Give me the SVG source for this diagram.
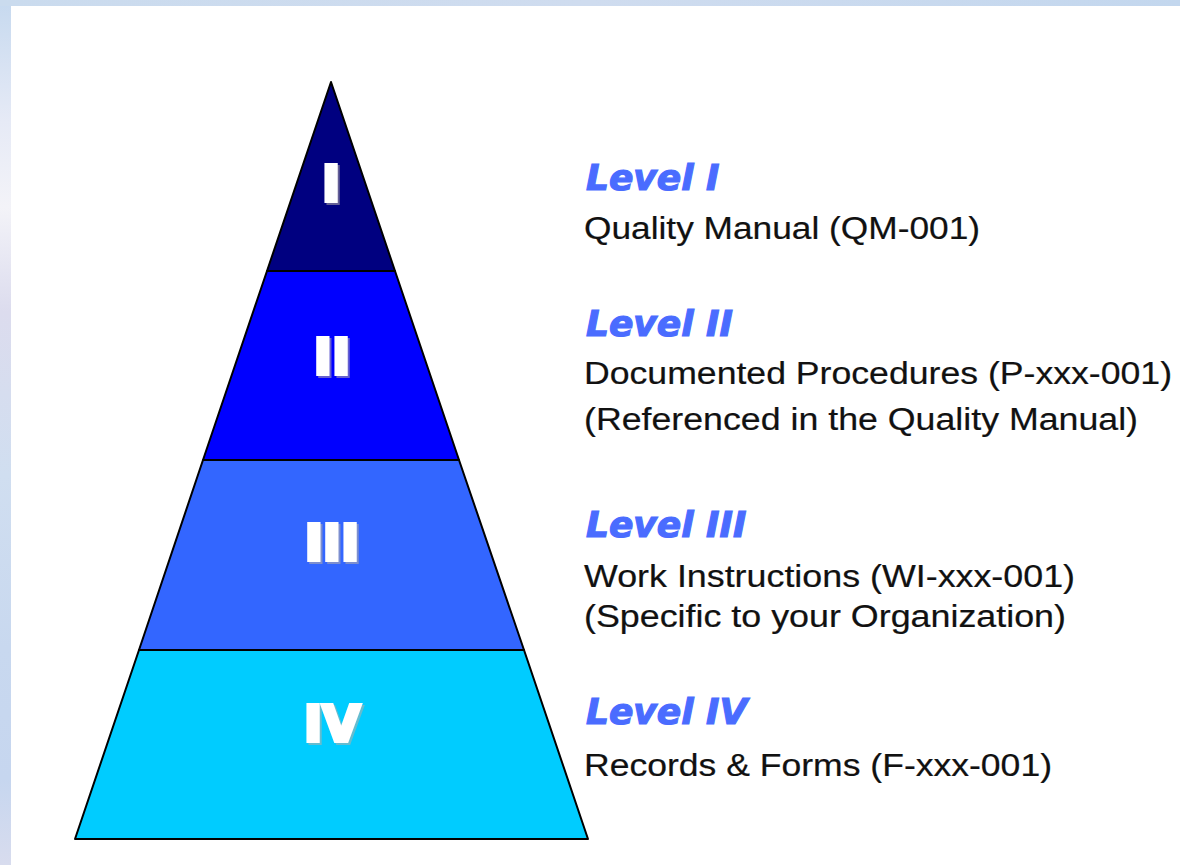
<svg xmlns="http://www.w3.org/2000/svg" width="1180" height="865" viewBox="0 0 1180 865">
<defs>
<linearGradient id="leftBand" x1="0" y1="0" x2="0" y2="1">
<stop offset="0" stop-color="#c6d9ef"/>
<stop offset="0.14" stop-color="#e6eaf6"/>
<stop offset="0.24" stop-color="#f3f3f8"/>
<stop offset="0.36" stop-color="#dcdcee"/>
<stop offset="0.55" stop-color="#d0def0"/>
<stop offset="0.75" stop-color="#c8d8ef"/>
<stop offset="0.9" stop-color="#c6d6ef"/>
<stop offset="1" stop-color="#d8dcee"/>
</linearGradient>
<linearGradient id="topBand" x1="0" y1="0" x2="1" y2="0">
<stop offset="0" stop-color="#cadbee"/>
<stop offset="0.5" stop-color="#cfdcef"/>
<stop offset="1" stop-color="#c3d7ee"/>
</linearGradient>
</defs>
<style>
.tier{stroke:#000;stroke-width:2;stroke-linejoin:round}
.num{font-family:"DejaVu Sans",sans-serif;font-weight:bold;font-size:49px;fill:#fff;stroke:#fff;stroke-width:4;stroke-linejoin:miter;text-anchor:middle}
.numsh{font-family:"DejaVu Sans",sans-serif;font-weight:bold;font-size:49px;fill:#b8b0a8;stroke:#b8b0a8;stroke-width:4;text-anchor:middle;opacity:0.55}
.lvl{font-family:"DejaVu Sans",sans-serif;font-weight:bold;font-style:italic;font-size:36px;fill:#4a6cff;stroke:#4a6cff;stroke-width:1.2}
.desc{font-family:"Liberation Sans",Arial,sans-serif;font-size:31px;fill:#111;stroke:#111;stroke-width:0.2}
</style>
<rect x="0" y="0" width="1180" height="865" fill="#fff"/>
<rect x="0" y="0" width="11" height="865" fill="url(#leftBand)"/>
<rect x="0" y="0" width="1180" height="6" fill="url(#topBand)"/>

<g id="level1">
<polygon class="tier" points="331,82 395,271 267,271" fill="#000080"/>
<text class="numsh" x="333" y="203">I</text>
<text class="num" x="331" y="201">I</text>
</g>
<g id="level2">
<polygon class="tier" points="267,271 395,271 459,460 203,460" fill="#0000ff"/>
<text class="numsh" x="334" y="376">II</text>
<text class="num" x="332" y="374">II</text>
</g>
<g id="level3">
<polygon class="tier" points="203,460 459,460 524,650 139,650" fill="#3366ff"/>
<text class="numsh" x="334" y="562">III</text>
<text class="num" x="332" y="560">III</text>
</g>
<g id="level4">
<polygon class="tier" points="139,650 524,650 588,839 75,839" fill="#00ccff"/>
<text class="numsh" x="334" y="743">IV</text>
<text class="num" x="332" y="741">IV</text>
</g>

<g id="label1">
<text class="lvl" x="586" y="190">Level I</text>
<text class="desc" x="584" y="239" textLength="396" lengthAdjust="spacingAndGlyphs">Quality Manual (QM-001)</text>
</g>
<g id="label2">
<text class="lvl" x="586" y="336">Level II</text>
<text class="desc" x="584" y="384" textLength="588" lengthAdjust="spacingAndGlyphs">Documented Procedures (P-xxx-001)</text>
<text class="desc" x="584" y="430" textLength="554" lengthAdjust="spacingAndGlyphs">(Referenced in the Quality Manual)</text>
</g>
<g id="label3">
<text class="lvl" x="586" y="537">Level III</text>
<text class="desc" x="584" y="587" textLength="491" lengthAdjust="spacingAndGlyphs">Work Instructions (WI-xxx-001)</text>
<text class="desc" x="584" y="627" textLength="482" lengthAdjust="spacingAndGlyphs">(Specific to your Organization)</text>
</g>
<g id="label4">
<text class="lvl" x="586" y="724">Level IV</text>
<text class="desc" x="584" y="776" textLength="468" lengthAdjust="spacingAndGlyphs">Records &amp; Forms (F-xxx-001)</text>
</g>
</svg>
